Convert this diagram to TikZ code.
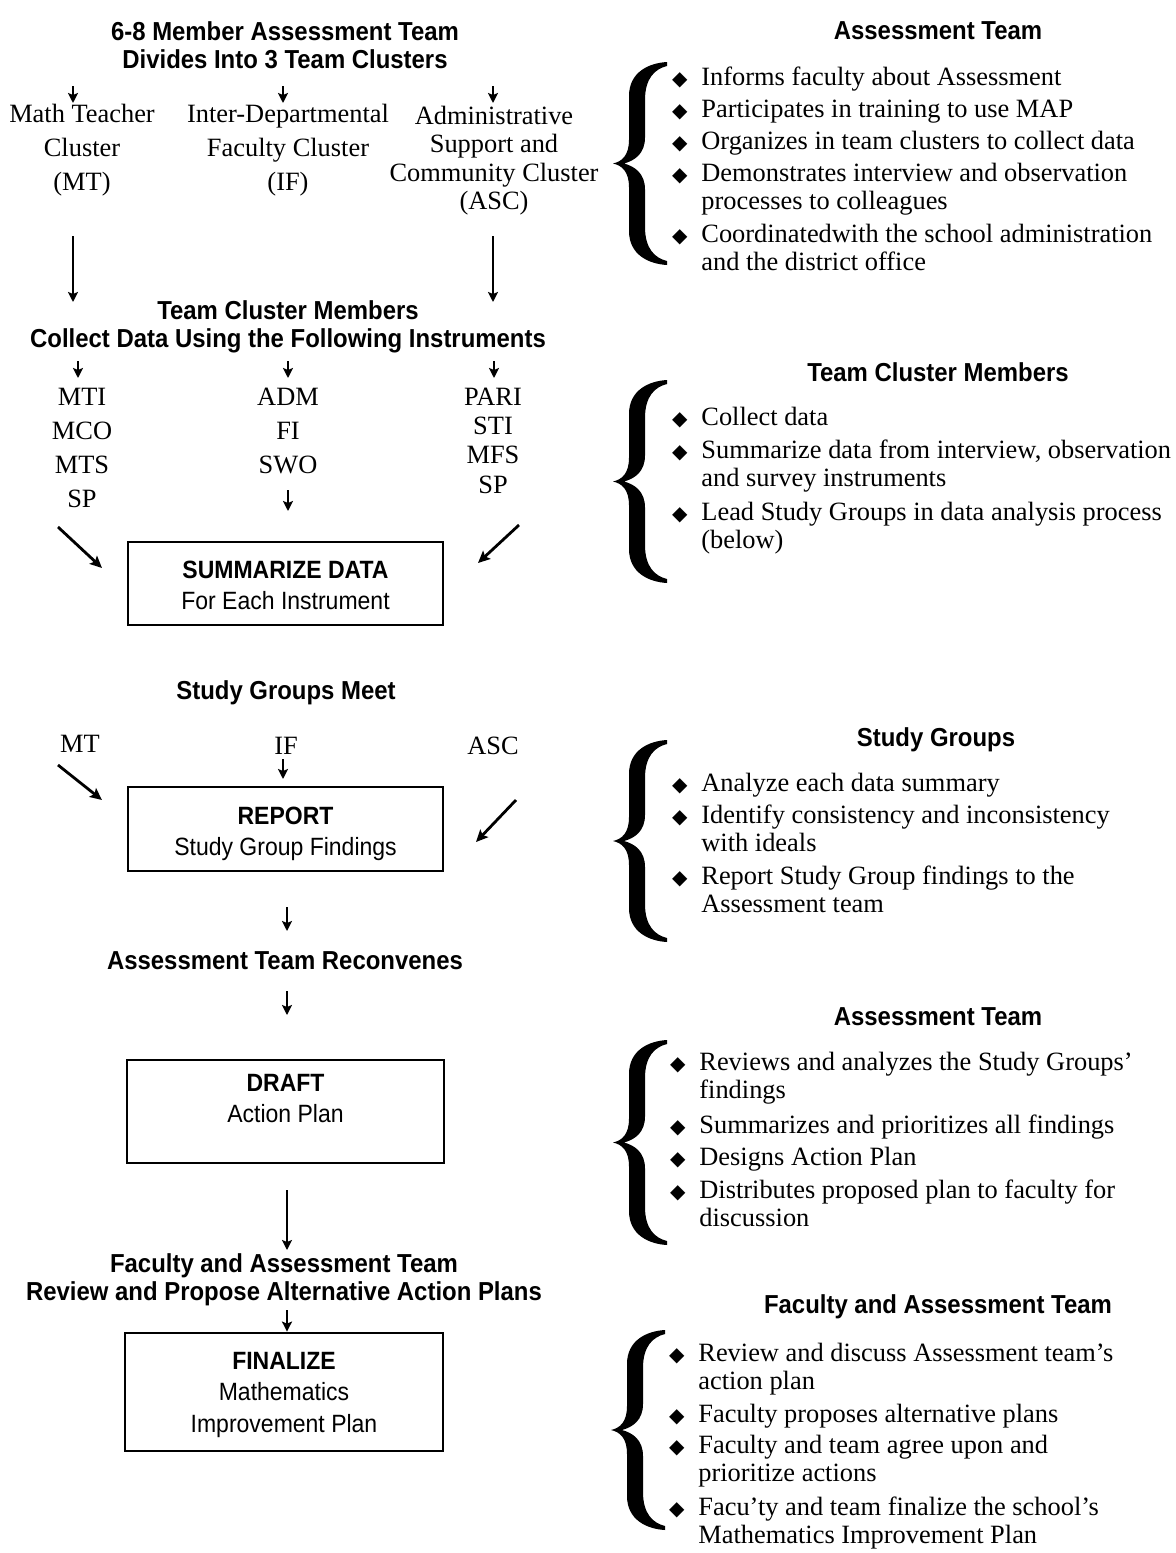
\documentclass[tikz,border=0pt]{standalone}
\usepackage{fontspec}
\setmainfont{Liberation Serif}
\newfontfamily\hsans[FakeStretch=0.92]{Liberation Sans}
\newfontfamily\dejavu{DejaVu Sans}
\usetikzlibrary{arrows.meta}

\newcommand\lines[2][l]{\begin{tabular}[t]{@{}#1@{}}#2\end{tabular}}
\newcommand\bul{\llap{{\dejavu\fontsize{10}{10}\selectfont ◆}\hspace{7pt}}}
\newcommand\Brace[3]{%
  \pgfmathsetmacro\bH{#3-#2}\pgfmathsetmacro\bM{\bH/2}%
  \begin{scope}[shift={(#1,#2)}]
  \fill (54,0) .. controls (36,1) and (16,10) .. (16,34) -- (16,\bM-24)
    .. controls (16,\bM-8) and (9,\bM-2) .. (0,\bM)
    .. controls (9,\bM+2) and (16,\bM+8) .. (16,\bM+24) -- (16,\bH-34)
    .. controls (16,\bH-10) and (36,\bH-1) .. (54,\bH) -- (54,\bH-4)
    .. controls (42,\bH-7) and (32,\bH-16) .. (32,\bH-38) -- (32,\bM+26)
    .. controls (32,\bM+10) and (22,\bM+3) .. (11,\bM)
    .. controls (22,\bM-3) and (32,\bM-10) .. (32,\bM-26) -- (32,38)
    .. controls (32,16) and (42,7) .. (54,4) -- cycle;
  \end{scope}}

\tikzset{
  hd/.style={font=\hsans\bfseries\fontsize{13}{14}\selectfont, anchor=base, inner sep=0},
  lab/.style={font=\fontsize{13.2}{17}\selectfont, anchor=base, inner sep=0},
  labt/.style={font=\fontsize{13.2}{14.25}\selectfont, anchor=base, inner sep=0},
  item/.style={font=\fontsize{13.2}{14.25}\selectfont, anchor=base west, inner sep=0},
  boxtext/.style={font=\hsans\fontsize{12.5}{15.75}\selectfont, anchor=base, inner sep=0},
  stepbox/.style={draw, line width=1.4pt, inner sep=0},
  arr/.style={-{Stealth[length=5pt,width=5pt,inset=1pt]}, line width=1pt},
  darr/.style={-{Stealth[length=6pt,width=5.5pt,inset=1.2pt]}, line width=1.4pt},
}

\begin{document}
\begin{tikzpicture}[x=0.5pt, y=-0.5pt]
\fill[white] (0,0) rectangle (1175,1553);
\useasboundingbox (0,0) rectangle (1175,1553);

% ---------- left column ----------
\node[hd] (title) at (285,40) {\lines[c]{6-8 Member Assessment Team\\Divides Into 3 Team Clusters}};
\node[lab] (mt) at (82,122) {\lines[c]{Math Teacher\\Cluster\\(MT)}};
\node[lab] (if) at (288,122) {\lines[c]{Inter-Departmental\\Faculty Cluster\\(IF)}};
\node[labt] (asc) at (494,124) {\lines[c]{Administrative\\Support and\\Community Cluster\\(ASC)}};

\coordinate (a1s) at (73,86);  \coordinate (a1e) at (73,103);
\coordinate (a2s) at (283,86); \coordinate (a2e) at (283,103);
\coordinate (a3s) at (493,86); \coordinate (a3e) at (493,103);
\draw[arr] (a1s) -- (a1e);
\draw[arr] (a2s) -- (a2e);
\draw[arr] (a3s) -- (a3e);

\coordinate (l1s) at (73,236);  \coordinate (l1e) at (73,302);
\coordinate (l2s) at (493,236); \coordinate (l2e) at (493,302);
\draw[arr] (l1s) -- (l1e);
\draw[arr] (l2s) -- (l2e);

\node[hd] (tcm) at (288,319) {\lines[c]{Team Cluster Members\\Collect Data Using the Following Instruments}};

\coordinate (b1s) at (78,361);  \coordinate (b1e) at (78,378);
\coordinate (b2s) at (288,361); \coordinate (b2e) at (288,378);
\coordinate (b3s) at (494,361); \coordinate (b3e) at (494,378);
\draw[arr] (b1s) -- (b1e);
\draw[arr] (b2s) -- (b2e);
\draw[arr] (b3s) -- (b3e);

\node[lab] (ins1) at (82,405) {\lines[c]{MTI\\MCO\\MTS\\SP}};
\node[lab] (ins2) at (288,405) {\lines[c]{ADM\\FI\\SWO}};
\node[font=\fontsize{13.2}{14.7}\selectfont, anchor=base, inner sep=0] (ins3) at (493,405) {\lines[c]{PARI\\STI\\MFS\\SP}};

\coordinate (c2s) at (288,490); \coordinate (c2e) at (288,511);
\draw[arr] (c2s) -- (c2e);

\node[stepbox, minimum width=157.5pt, minimum height=41.5pt] (sum) at (285.5,583.5) {};
\node[boxtext] (sumt) at (285.5,578) {\lines[c]{\bfseries SUMMARIZE DATA\\For Each Instrument}};
\coordinate (d1s) at (58,527);  \coordinate (d1e) at (102,568);
\coordinate (d2s) at (519,525); \coordinate (d2e) at (478,563);
\draw[darr] (d1s) -- (d1e);
\draw[darr] (d2s) -- (d2e);

\node[hd] (sgm) at (286,699) {Study Groups Meet};
\node[lab] (mt2) at (80,752) {MT};
\node[lab] (if2) at (286,754) {IF};
\node[lab] (asc2) at (493,754) {ASC};

\node[stepbox, minimum width=157.5pt, minimum height=42pt] (rep) at (285.5,829) {};
\node[boxtext] (rept) at (285.5,824) {\lines[c]{\bfseries REPORT\\Study Group Findings}};
\coordinate (e1s) at (283,759); \coordinate (e1e) at (283,779);
\draw[arr] (e1s) -- (e1e);
\coordinate (f1s) at (58,765);  \coordinate (f1e) at (102,800);
\coordinate (f2s) at (516,800); \coordinate (f2e) at (476,842);
\draw[darr] (f1s) -- (f1e);
\draw[darr] (f2s) -- (f2e);

\coordinate (g1s) at (287,907); \coordinate (g1e) at (287,931);
\draw[arr] (g1s) -- (g1e);
\node[hd] (atr) at (285,969) {Assessment Team Reconvenes};
\coordinate (g2s) at (287,991); \coordinate (g2e) at (287,1015);
\draw[arr] (g2s) -- (g2e);

\node[stepbox, minimum width=158.5pt, minimum height=51.5pt] (dra) at (285.5,1111.5) {};
\node[boxtext] (drat) at (285.5,1091) {\lines[c]{\bfseries DRAFT\\Action Plan}};

\coordinate (h1s) at (287,1190); \coordinate (h1e) at (287,1250);
\draw[arr] (h1s) -- (h1e);

\node[hd] (fat) at (284,1272) {\lines[c]{Faculty and Assessment Team\\Review and Propose Alternative Action Plans}};

\node[stepbox, minimum width=159pt, minimum height=59pt] (fin) at (284,1392) {};
\node[boxtext] (fint) at (284,1369) {\lines[c]{\bfseries FINALIZE\\Mathematics\\Improvement Plan}};
\coordinate (k1s) at (287,1310);
\draw[arr] (k1s) -- (k1s |- fin.north);

% ---------- right column ----------
\node[hd] (r1) at (938,39) {Assessment Team};
\Brace{613}{62}{265}
\node[item] (r1a) at (701,85)  {\bul\lines{Informs faculty about Assessment}};
\node[item] (r1b) at (701,117) {\bul\lines{Participates in training to use MAP}};
\node[item] (r1c) at (701,149) {\bul\lines{Organizes in team clusters to collect data}};
\node[item] (r1d) at (701,181) {\bul\lines{Demonstrates interview and observation\\processes to colleagues}};
\node[item] (r1e) at (701,242) {\bul\lines{Coordinatedwith the school administration\\and the district office}};

\node[hd] (r2) at (938,381) {Team Cluster Members};
\Brace{613}{380}{583}
\node[item] (r2a) at (701,425) {\bul\lines{Collect data}};
\node[item] (r2b) at (701,458) {\bul\lines{Summarize data from interview, observation\\and survey instruments}};
\node[item] (r2c) at (701,520) {\bul\lines{Lead Study Groups in data analysis process\\(below)}};

\node[hd] (r3) at (936,746) {Study Groups};
\Brace{613}{740}{942}
\node[item] (r3a) at (701,791) {\bul\lines{Analyze each data summary}};
\node[item] (r3b) at (701,823) {\bul\lines{Identify consistency and inconsistency\\with ideals}};
\node[item] (r3c) at (701,884) {\bul\lines{Report Study Group findings to the\\Assessment team}};

\node[hd] (r4) at (938,1025) {Assessment Team};
\Brace{613}{1040}{1245}
\node[item] (r4a) at (699,1070) {\bul\lines{Reviews and analyzes the Study Groups’\\findings}};
\node[item] (r4b) at (699,1133) {\bul\lines{Summarizes and prioritizes all findings}};
\node[item] (r4c) at (699,1165) {\bul\lines{Designs Action Plan}};
\node[item] (r4d) at (699,1198) {\bul\lines{Distributes proposed plan to faculty for\\discussion}};

\node[hd] (r5) at (938,1313) {Faculty and Assessment Team};
\Brace{611}{1330}{1530}
\node[item] (r5a) at (698,1361) {\bul\lines{Review and discuss Assessment team’s\\action plan}};
\node[item] (r5b) at (698,1422) {\bul\lines{Faculty proposes alternative plans}};
\node[item] (r5c) at (698,1453) {\bul\lines{Faculty and team agree upon and\\prioritize actions}};
\node[item] (r5d) at (698,1515) {\bul\lines{Facu'ty and team finalize the school's\\Mathematics Improvement Plan}};
\end{tikzpicture}
\end{document}
